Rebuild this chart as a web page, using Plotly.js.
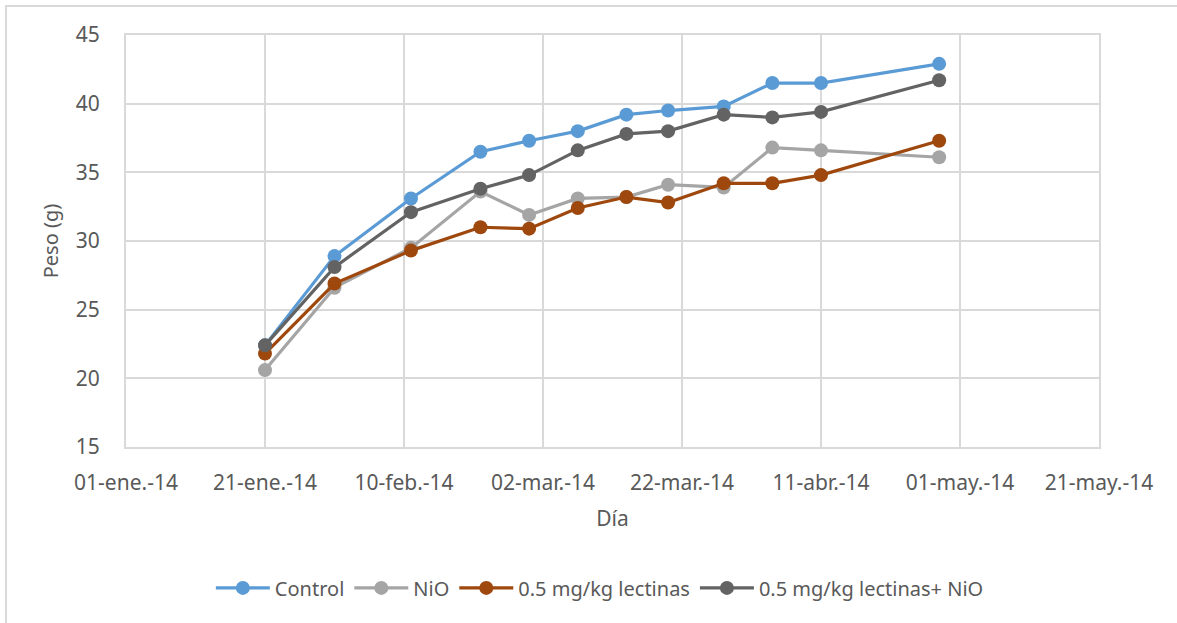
<!DOCTYPE html>
<html>
<head>
<meta charset="utf-8">
<script src="https://cdn.plot.ly/plotly-3.0.1.min.js"></script>
<style>
  html, body { margin: 0; padding: 0; background: #ffffff; }
  #chart { width: 1177px; height: 623px; }
</style>
</head>
<body>
<div id="chart"></div>
<script>
// Fechas de pesaje (2014)
const fechas = [
  '2014-01-21', '2014-01-31', '2014-02-11', '2014-02-21', '2014-02-28', '2014-03-07',
  '2014-03-14', '2014-03-20', '2014-03-28', '2014-04-04', '2014-04-11', '2014-04-28'
];

// Peso medio (g) por grupo
const control      = [22.4, 28.9, 33.1, 36.5, 37.3, 38.0, 39.2, 39.5, 39.8, 41.5, 41.5, 42.9];
const nio          = [20.6, 26.6, 29.5, 33.6, 31.9, 33.1, 33.2, 34.1, 33.9, 36.8, 36.6, 36.1];
const lectinas     = [21.8, 26.9, 29.3, 31.0, 30.9, 32.4, 33.2, 32.8, 34.2, 34.2, 34.8, 37.3];
const lectinasNiO  = [22.4, 28.1, 32.1, 33.8, 34.8, 36.6, 37.8, 38.0, 39.2, 39.0, 39.4, 41.7];

const nombres = ['Control', 'NiO', '0.5 mg/kg lectinas', '0.5 mg/kg lectinas+ NiO'];
const colores = ['#5B9BD5', '#A5A5A5', '#9E480E', '#636363'];

// Marcas del eje de fechas (cada 20 días)
const tickFechas = [
  '2014-01-01', '2014-01-21', '2014-02-10', '2014-03-02',
  '2014-03-22', '2014-04-11', '2014-05-01', '2014-05-21'
];
const tickTextos = [
  '01-ene.-14', '21-ene.-14', '10-feb.-14', '02-mar.-14',
  '22-mar.-14', '11-abr.-14', '01-may.-14', '21-may.-14'
];

const series = [control, nio, lectinas, lectinasNiO];
const trazas = series.map((ys, i) => ({
  type: 'scatter',
  mode: 'lines+markers',
  x: fechas,
  y: ys,
  name: nombres[i],
  line: { color: colores[i], width: 3.2 },
  marker: { color: colores[i], size: 14 },
  hoverinfo: 'skip'
}));

const fuente = '"Noto Sans", "Open Sans", sans-serif';
const gris = '#d9d9d9';
const texto = '#595959';

const layout = {
  width: 1177,
  height: 623,
  margin: { l: 126, r: 78, t: 35, b: 176 },
  paper_bgcolor: '#ffffff',
  plot_bgcolor: '#ffffff',
  showlegend: true,
  font: { family: fuente, color: texto, size: 20 },
  xaxis: {
    type: 'date',
    range: ['2014-01-01', '2014-05-21'],
    tickvals: tickFechas,
    ticktext: tickTextos,
    showgrid: true,
    gridcolor: gris,
    gridwidth: 2,
    zeroline: false,
    showline: true,
    linecolor: gris,
    linewidth: 2,
    mirror: true,
    ticks: 'outside',
    ticklen: 16,
    tickcolor: 'rgba(0,0,0,0)',
    tickfont: { family: fuente, size: 21, color: texto },
    title: { text: 'Día', font: { family: fuente, size: 21, color: texto }, standoff: 16 },
    fixedrange: true
  },
  yaxis: {
    range: [15, 45],
    dtick: 5,
    showgrid: true,
    gridcolor: gris,
    gridwidth: 2,
    zeroline: false,
    showline: true,
    linecolor: gris,
    linewidth: 2,
    mirror: true,
    ticks: 'outside',
    ticklen: 20,
    tickcolor: 'rgba(0,0,0,0)',
    tickfont: { family: fuente, size: 21, color: texto },
    title: { text: 'Peso (g)', font: { family: fuente, size: 20, color: texto }, standoff: 12 },
    fixedrange: true
  },
  legend: {
    orientation: 'h',
    x: 0.487,
    xanchor: 'center',
    y: -0.342,
    yanchor: 'middle',
    font: { family: fuente, size: 20, color: texto },
    itemwidth: 54,
    bgcolor: 'rgba(0,0,0,0)'
  },
  shapes: [
    {
      type: 'path',
      xref: 'paper',
      yref: 'paper',
      path: 'M -0.1233,-0.45 L -0.1233,1.0704 L 1.09,1.0704',
      line: { color: gris, width: 2 }
    }
  ]
};

Plotly.newPlot('chart', trazas, layout, { displayModeBar: false, staticPlot: true });
</script>
</body>
</html>
